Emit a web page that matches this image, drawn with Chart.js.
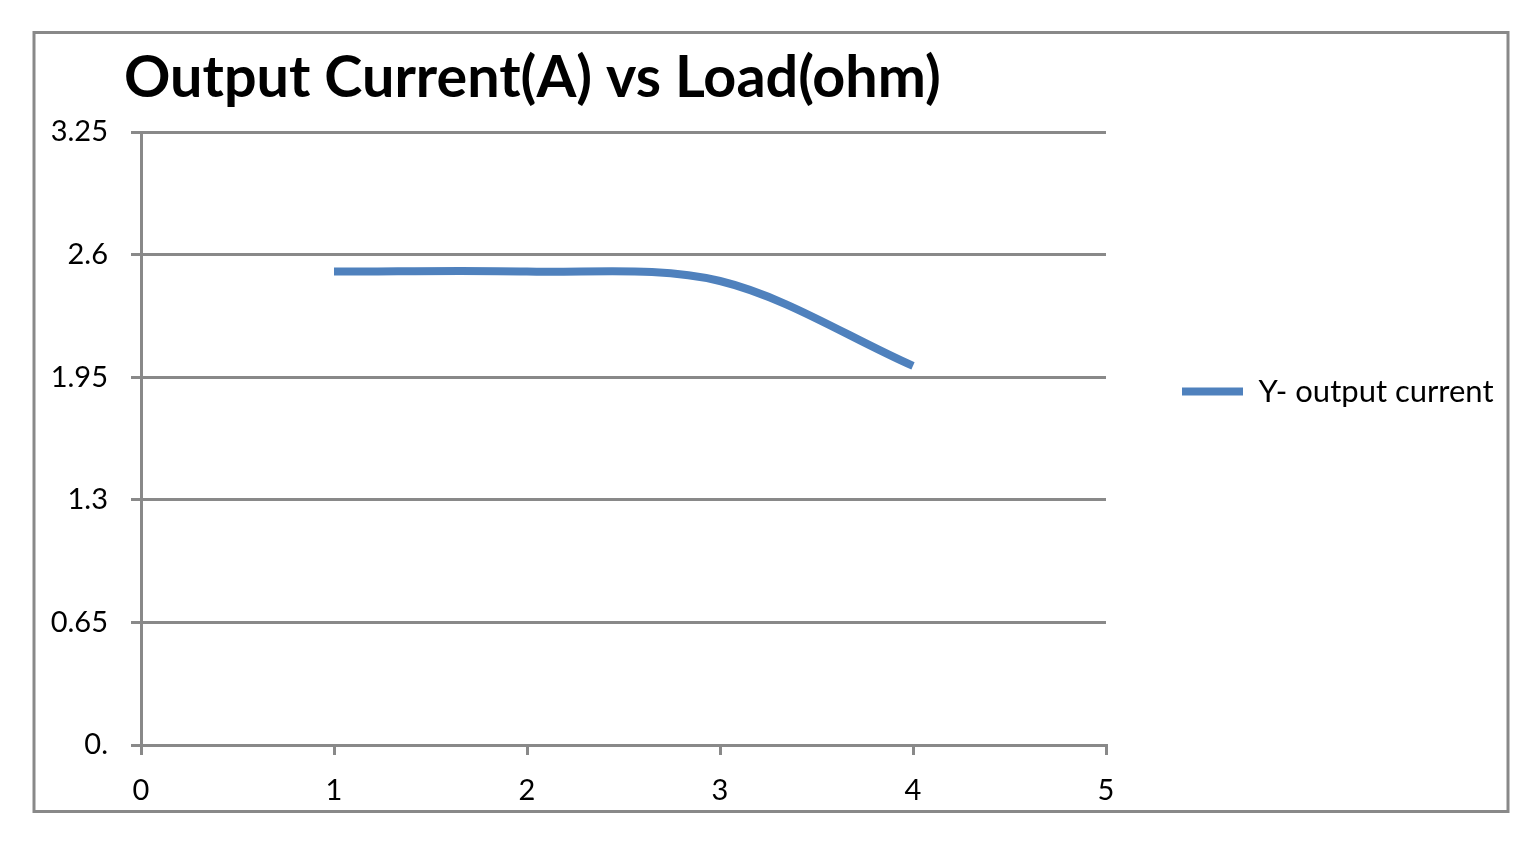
<!DOCTYPE html>
<html><head><meta charset="utf-8">
<script src="https://cdn.jsdelivr.net/npm/chart.js@4.4.1/dist/chart.umd.min.js"></script>
<style>html,body{margin:0;padding:0;background:#fff;overflow:hidden}</style>
</head><body>
<canvas id="c" width="1536" height="847" style="display:block;width:1536px;height:847px"></canvas>
<script>
const chartTitle = 'Output Current(A) vs Load(ohm)';
const seriesName = 'Y- output current';
const loadOhm = [1, 2, 3, 4];
const outputCurrent = [2.51, 2.51, 2.46, 2.01];
const xTickValues = [0, 1, 2, 3, 4, 5];
const yTickValues = [0, 0.65, 1.3, 1.95, 2.6, 3.25];
const yTickLabels = ['0.', '0.65', '1.3', '1.95', '2.6', '3.25'];

const gridColor = '#898989';
const lineColor = '#4f81bd';
const fam = 'Lato, "Open Sans", sans-serif';
const tickFont = {family: fam, size: 29};
const legendFontSize = 31;
const legendPad = 76;
const legendBoxW = 61;
const plotLeft = 141;
const plotRight = 1106;
const padLeft = -200;
const titleX = 124;

// measure legend text to place chart area's right edge
const mctx = document.createElement('canvas').getContext('2d');
mctx.font = legendFontSize + 'px ' + fam;
const legendTextW = mctx.measureText(seriesName).width;
const legendW = legendPad + legendBoxW + legendFontSize / 2 + legendTextW;
const padRight = Math.max(0, 1536 - plotRight - legendW);

const framePlugin = {
  id: 'frame',
  afterLayout(chart) {
    if (chart.titleBlock) chart.titleBlock.left = titleX;
  },
  beforeDraw(chart) {
    const c = chart.ctx;
    c.save();
    c.strokeStyle = gridColor;
    c.lineWidth = 3;
    c.strokeRect(34, 32.5, 1474, 779);
    c.restore();
  }
};

const chart = new Chart(document.getElementById('c'), {
  type: 'line',
  data: {
    datasets: [{
      label: seriesName,
      data: loadOhm.map((x, i) => ({x: x, y: outputCurrent[i]})),
      borderColor: lineColor,
      backgroundColor: lineColor,
      borderWidth: 8,
      tension: 0.33,
      pointRadius: 0,
      pointHoverRadius: 0,
      fill: false
    }]
  },
  options: {
    responsive: false,
    animation: false,
    devicePixelRatio: 1,
    layout: {padding: {left: padLeft, top: 0, right: padRight, bottom: 0}},
    plugins: {
      title: {
        display: true,
        text: chartTitle,
        align: 'start',
        color: '#000',
        font: {family: fam, size: 57.5, weight: 'bold', lineHeight: 1.2},
        padding: {top: 44, bottom: 19}
      },
      legend: {
        display: true,
        position: 'right',
        align: 'start',
        title: {display: true, text: '', font: {size: 10, lineHeight: 1.2}, padding: {top: 288, bottom: 0}},
        labels: {
          usePointStyle: true,
          pointStyle: 'line',
          pointStyleWidth: legendBoxW,
          padding: legendPad,
          color: '#000',
          font: {family: fam, size: legendFontSize}
        }
      },
      tooltip: {enabled: false}
    },
    scales: {
      x: {
        type: 'linear',
        min: 0, max: 5,
        afterBuildTicks: s => { s.ticks = xTickValues.map(v => ({value: v})); },
        afterFit: s => { s.height = 102; },
        grid: {drawOnChartArea: false, drawTicks: true, tickLength: 10, color: gridColor, lineWidth: 3},
        border: {display: true, color: gridColor, width: 3},
        ticks: {padding: 18, font: tickFont, color: '#000', maxRotation: 0, autoSkip: false}
      },
      y: {
        type: 'linear',
        min: 0, max: 3.25,
        afterBuildTicks: s => { s.ticks = yTickValues.map(v => ({value: v})); },
        afterFit: s => { s.width = plotLeft - padLeft; },
        grid: {drawTicks: true, tickLength: 10, color: gridColor, lineWidth: 3},
        border: {display: true, color: gridColor, width: 3},
        ticks: {
          padding: 23, font: tickFont, color: '#000', autoSkip: false,
          callback: (v) => { const i = yTickValues.indexOf(v); return i >= 0 ? yTickLabels[i] : ''; }
        }
      }
    }
  },
  plugins: [framePlugin]
});

// fine-tune right padding so the plot area ends where the reference's does
const diff = plotRight - chart.chartArea.right;
if (Math.abs(diff) > 0.5) {
  chart.options.layout.padding.right = Math.max(0, padRight - diff);
  chart.update();
}
</script>
</body></html>
